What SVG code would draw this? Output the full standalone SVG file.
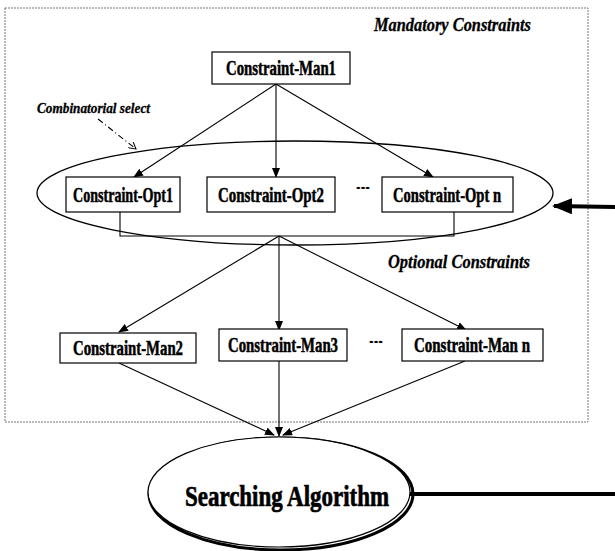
<svg xmlns="http://www.w3.org/2000/svg" width="615" height="551" viewBox="0 0 615 551">
<style>
.box{fill:#fff;stroke:#000;stroke-width:1.2}
.lbl{font-family:"Liberation Serif","Times New Roman",serif;font-weight:bold;font-size:20px;fill:#000;stroke:#000;stroke-width:0.5}
.it{font-family:"Liberation Serif","Times New Roman",serif;font-weight:bold;font-style:italic;font-size:18px;fill:#000;stroke:#000;stroke-width:0.3}
.ln{stroke:#000;stroke-width:1.1;fill:none}
.dots{font-family:"Liberation Sans",Arial,sans-serif;font-weight:bold;font-size:8px;fill:#000}
</style>
<defs>
<marker id="ah" markerWidth="10" markerHeight="8" refX="9" refY="4" orient="auto" markerUnits="userSpaceOnUse">
<path d="M0,0 L10,4 L0,8 Z" fill="#000"/>
</marker>
<marker id="open" markerWidth="8" markerHeight="8" refX="7" refY="4" orient="auto" markerUnits="userSpaceOnUse">
<path d="M0,0 L7,4 L0,8" fill="none" stroke="#000" stroke-width="1"/>
</marker>
<marker id="big" markerWidth="20" markerHeight="16" refX="18" refY="8" orient="auto" markerUnits="userSpaceOnUse">
<path d="M0,0 L20,8 L0,16 Z" fill="#000"/>
</marker>
</defs>
<rect x="5" y="8" width="583" height="414" fill="none" stroke="#777" stroke-width="1" stroke-dasharray="2,1"/>
<text class="it" x="374" y="31" textLength="157" lengthAdjust="spacingAndGlyphs">Mandatory Constraints</text>
<text class="it" x="37" y="113" style="font-size:15px" textLength="113" lengthAdjust="spacingAndGlyphs">Combinatorial select</text>
<text class="it" x="388" y="268" textLength="142" lengthAdjust="spacingAndGlyphs">Optional Constraints</text>
<g id="opt-group">
<ellipse cx="295" cy="193" rx="258" ry="52" fill="none" stroke="#000" stroke-width="1.3"/>
</g>
<g id="connectors">
<line class="ln" x1="98" y1="119" x2="136" y2="149" stroke-dasharray="6,3,1,3" marker-end="url(#open)"/>
<line class="ln" x1="276" y1="84" x2="134" y2="177" marker-end="url(#ah)"/>
<line class="ln" x1="276" y1="84" x2="276" y2="177" marker-end="url(#ah)"/>
<line class="ln" x1="276" y1="84" x2="433" y2="177" marker-end="url(#ah)"/>
<polyline class="ln" points="120,212 120,236 454,236 454,212"/>
<line class="ln" x1="279" y1="236" x2="119" y2="332" marker-end="url(#ah)"/>
<line class="ln" x1="279" y1="236" x2="279" y2="330" marker-end="url(#ah)"/>
<line class="ln" x1="279" y1="236" x2="466" y2="330" marker-end="url(#ah)"/>
<line class="ln" x1="119" y1="363" x2="274" y2="435" marker-end="url(#ah)"/>
<line class="ln" x1="279" y1="361" x2="279" y2="436" marker-end="url(#ah)"/>
<line class="ln" x1="465" y1="361" x2="283" y2="435" marker-end="url(#ah)"/>
<line x1="615" y1="207" x2="554" y2="206" stroke="#000" stroke-width="4" marker-end="url(#big)"/>
<line x1="410" y1="494" x2="615" y2="494" stroke="#000" stroke-width="4"/>
</g>
<g id="man1"><rect class="box" x="212" y="52" width="138" height="32"/><text class="lbl" x="281" y="75" text-anchor="middle" textLength="110" lengthAdjust="spacingAndGlyphs">Constraint-Man1</text></g>
<g id="opt1"><rect class="box" x="66" y="177" width="114" height="35"/><text class="lbl" x="123" y="202" text-anchor="middle" textLength="100" lengthAdjust="spacingAndGlyphs">Constraint-Opt1</text></g>
<g id="opt2"><rect class="box" x="207" y="177" width="128" height="35"/><text class="lbl" x="271" y="202" text-anchor="middle" textLength="106" lengthAdjust="spacingAndGlyphs">Constraint-Opt2</text></g>
<text class="dots" x="363" y="190" text-anchor="middle" textLength="14" lengthAdjust="spacingAndGlyphs">•••</text>
<g id="optn"><rect class="box" x="382" y="177" width="131" height="35"/><text class="lbl" x="447" y="202" text-anchor="middle" textLength="108" lengthAdjust="spacingAndGlyphs">Constraint-Opt n</text></g>
<g id="man2"><rect class="box" x="60" y="333" width="136" height="30"/><text class="lbl" x="128" y="355" text-anchor="middle" textLength="110" lengthAdjust="spacingAndGlyphs">Constraint-Man2</text></g>
<g id="man3"><rect class="box" x="219" y="329" width="128" height="32"/><text class="lbl" x="283" y="352" text-anchor="middle" textLength="110" lengthAdjust="spacingAndGlyphs">Constraint-Man3</text></g>
<text class="dots" x="376" y="344" text-anchor="middle" textLength="14" lengthAdjust="spacingAndGlyphs">•••</text>
<g id="mann"><rect class="box" x="402" y="329" width="141" height="32"/><text class="lbl" x="472" y="352" text-anchor="middle" textLength="116" lengthAdjust="spacingAndGlyphs">Constraint-Man n</text></g>
<g id="search">
<ellipse cx="281" cy="494" rx="132" ry="56" fill="none" stroke="#000" stroke-width="3"/>
<ellipse cx="279" cy="492" rx="131" ry="55" fill="#fff" stroke="#000" stroke-width="1.2"/>
<text class="lbl" x="287" y="506" style="font-size:30px;stroke-width:0.7" text-anchor="middle" textLength="204" lengthAdjust="spacingAndGlyphs">Searching Algorithm</text>
</g>
</svg>
